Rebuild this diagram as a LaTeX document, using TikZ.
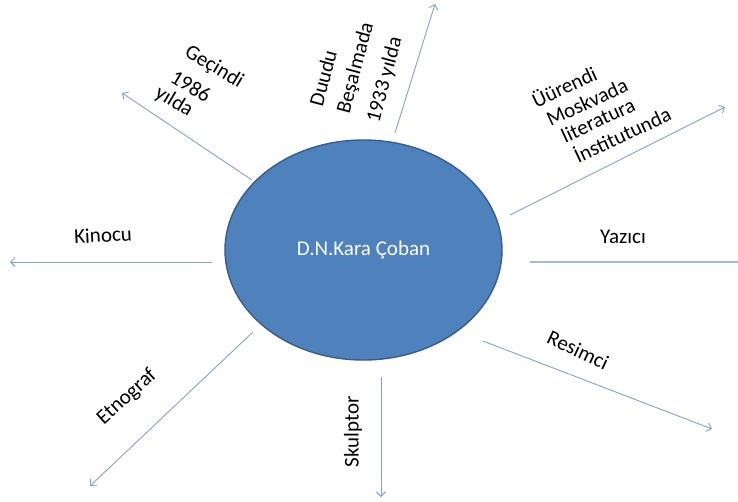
\documentclass[tikz,border=0pt]{standalone}
\usepackage{fontspec}
\setmainfont{Carlito}
\usetikzlibrary{arrows.meta,shapes.geometric}
\definecolor{ellfill}{HTML}{4F81BD}
\definecolor{elldraw}{HTML}{385D8A}
\definecolor{conn}{RGB}{138,160,200}
\definecolor{connlight}{RGB}{168,184,214}
\tikzset{
  lbl/.style={inner sep=0pt, font=\fontsize{21}{26}\selectfont, text=black},
  conarrow/.style={draw=conn, line width=0.9pt, -{Straight Barb[length=4.5pt,width=9pt]}},
  conline/.style={draw=connlight, line width=1.3pt}
}
\begin{document}
\begin{tikzpicture}[x=1pt,y=-1pt]
\useasboundingbox (0,0) rectangle (738,501);
\fill[white] (0,0) rectangle (738,501);
% central ellipse
\node[ellipse, draw=elldraw, line width=1.4pt, fill=ellfill, minimum width=277pt, minimum height=220pt, inner sep=0pt,
      text=white, font=\fontsize{21}{24}\selectfont] (c) at (363.5,250) {D.N.Kara Çoban};
% connector end points
\coordinate (s1) at (252,180);  \coordinate (e1) at (122,93);
\coordinate (s2) at (395,133);  \coordinate (e2) at (435,4);
\coordinate (s3) at (510,215);  \coordinate (e3) at (725,107);
\coordinate (s4) at (530,262);  \coordinate (e4) at (738,262);
\coordinate (s5) at (483,341);  \coordinate (e5) at (712,429);
\coordinate (s6) at (381,377);  \coordinate (e6) at (381,497);
\coordinate (s7) at (253,332);  \coordinate (e7) at (90,486);
\coordinate (s8) at (212,262);  \coordinate (e8) at (10,262);
% connectors
\draw[conarrow] (s1) -- (e1);
\draw[conarrow] (s2) -- (e2);
\draw[conarrow] (s3) -- (e3);
\draw[conline]  (s4) -- (e4);
\draw[conarrow] (s5) -- (e5);
\draw[conarrow] (s6) -- (e6);
\draw[conarrow] (s7) -- (e7);
\draw[conarrow] (s8) -- (e8);
% labels
\node[lbl, rotate=-31] (t1a) at (214,67) {Geçindi};
\node[lbl, rotate=-31] (t1b) at (191,86) {1986};
\node[lbl, rotate=-31] (t1c) at (174,102) {yılda};
\node[lbl, rotate=75] (t2a) at (323,78) {Duudu};
\node[lbl, rotate=75] (t2b) at (356,68) {Beşalmada};
\node[lbl, rotate=75] (t2c) at (385,80) {1933 yılda};
\node[lbl, rotate=25] (t3a) at (564,86) {Üürendi};
\node[lbl, rotate=25] (t3b) at (587,102) {Moskvada};
\node[lbl, rotate=25] (t3c) at (598,120) {literatura};
\node[lbl, rotate=25] (t3d) at (622,134) {İnstitutunda};
\node[lbl] (t4) at (623,237) {Yazıcı};
\node[lbl, rotate=-25] (t5) at (578,350) {Resimci};
\node[lbl, rotate=90] (t6) at (353,432) {Skulptor};
\node[lbl, rotate=42] (t7) at (127,397) {Etnograf};
\node[lbl, rotate=3] (t8) at (103,235) {Kinocu};
\end{tikzpicture}
\end{document}
